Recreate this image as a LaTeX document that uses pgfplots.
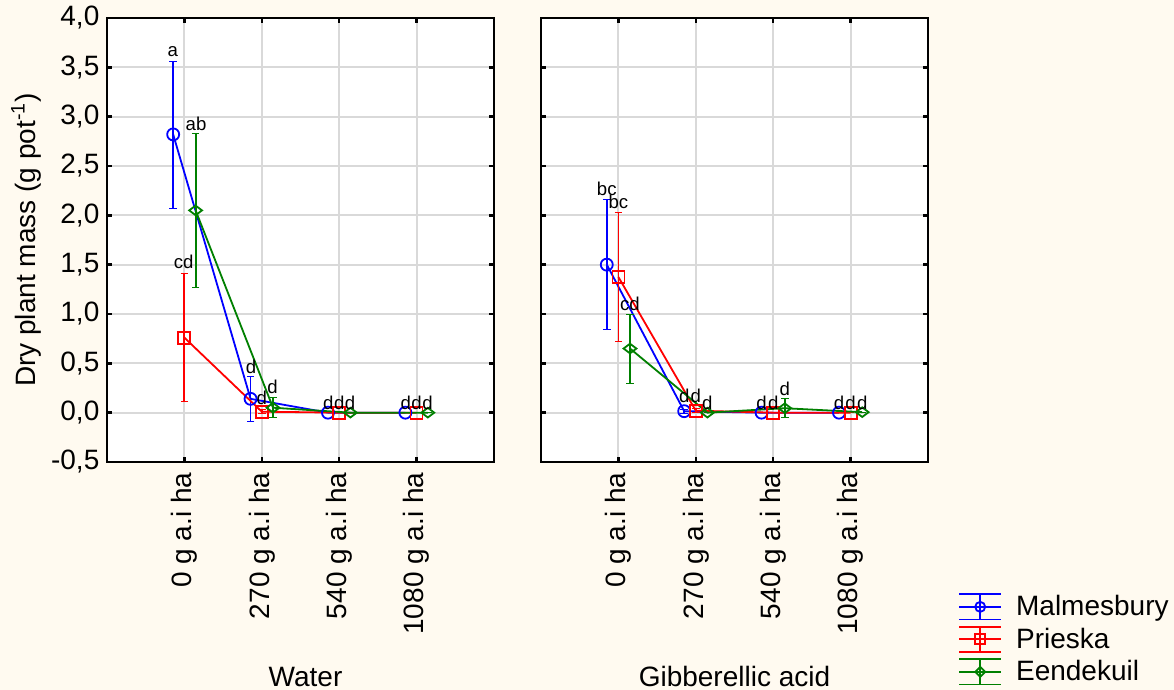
\documentclass[border=0pt]{standalone}
\usepackage{fontspec}
\setmainfont{Liberation Sans}
\usepackage{pgfplots}
\pgfplotsset{compat=1.18}
\usepackage{pgfplotstable}
\definecolor{bg}{RGB}{255,250,240}
\definecolor{sblue}{RGB}{0,0,255}
\definecolor{sred}{RGB}{255,0,0}
\definecolor{sgreen}{RGB}{0,128,0}
\definecolor{gridc}{RGB}{217,217,217}

% Water
\pgfplotstableread{
x y e
0.855 2.82 0.745
1.855 0.14 0.227
2.855 0 0
3.855 0 0
}\wblue
\pgfplotstableread{
x y e
1.0 0.76 0.65
2.0 0.01 0.02
3.0 0 0
4.0 0 0
}\wred
\pgfplotstableread{
x y e
1.145 2.05 0.78
2.145 0.05 0.10
3.145 0 0
4.145 0 0
}\wgreen
\pgfplotstableread{
x y l
0.85 3.61 a
1.15 2.86 ab
0.99 1.46 cd
1.86 0.40 d
2.0 0.08 d
2.14 0.195 d
2.86 0.027 d
3.0 0.027 d
3.14 0.027 d
3.86 0.027 d
4.0 0.027 d
4.14 0.027 d
}\wlab
% Gibberellic acid
\pgfplotstableread{
x y e
0.85 1.50 0.66
1.85 0.015 0.02
2.85 0 0
3.85 0 0
}\gblue
\pgfplotstableread{
x y e
1.0 1.375 0.655
2.0 0.02 0.02
3.0 0 0
4.0 0 0
}\gred
\pgfplotstableread{
x y e
1.15 0.65 0.35
2.15 0.0 0.0
3.15 0.045 0.095
4.15 0.005 0
}\ggreen
\pgfplotstableread{
x y l
0.85 2.20 bc
1.0 2.07 bc
1.15 1.04 cd
1.85 0.104 d
2.0 0.104 d
2.15 0.037 d
2.85 0.037 d
3.0 0.037 d
3.15 0.172 d
3.85 0.037 d
4.0 0.037 d
4.15 0.037 d
}\glab

\newcommand{\bigf}{\fontsize{14}{16.8}\selectfont}
\newcommand{\smallf}{\fontsize{9.3}{11}\selectfont}

\pgfplotsset{
  panel/.style={
    scale only axis, width=193.5pt, height=222pt, anchor=south west,
    xmin=0, xmax=5, ymin=-0.5, ymax=4,
    xtick={1,2,3,4},
    xticklabels={0 g a.i ha,270 g a.i ha,540 g a.i ha,1080 g a.i ha},
    ytick={-0.5,0,0.5,1,1.5,2,2.5,3,3.5,4},
    grid=major, major grid style={draw=gridc, line width=1pt},
    tick align=inside, tick pos=both, major tick length=2.5pt,
    every tick/.style={black, line width=1.2pt},
    axis line style={line width=1.2pt},
    axis background/.style={fill=white},
    tick label style={font=\bigf},
    label style={font=\bigf},
    xticklabel style={rotate=90, anchor=east},
    xticklabel shift=1.8pt,
    yticklabel shift=0.3pt,
    clip=false,
  },
  ser/.style={#1, line width=0.9pt, mark options={solid, fill=none},
    error bars/y dir=both, error bars/y explicit,
    error bars/error bar style={#1, line width=0.9pt, mark size=1.9pt}},
  labs/.style={forget plot, draw=none, mark=none, nodes near coords,
    point meta=explicit symbolic,
    nodes near coords style={anchor=base, font=\smallf, text=black, inner sep=0pt}},
}

\begin{document}
\begin{tikzpicture}
\fill[bg] (0,0) rectangle (587pt,345pt);

\begin{axis}[panel, at={(53.5pt,114pt)},
  yticklabels={{-0,5},{0,0},{0,5},{1,0},{1,5},{2,0},{2,5},{3,0},{3,5},{4,0}},
  ylabel={Dry plant mass (g pot\textsuperscript{-1})},
  ylabel style={at={(axis description cs:-0.209,0.5)}, anchor=center},
  xlabel={Water},
  xlabel style={at={(axis description cs:0.513,-0.506)}, anchor=base},
]
\addplot[ser=sblue, mark=o, mark size=3pt] table[x=x, y=y, y error=e] {\wblue};
\addplot[ser=sred, mark=square, mark size=3pt] table[x=x, y=y, y error=e] {\wred};
\addplot[ser=sgreen, mark=diamond, mark size=3.2pt, mark options={rotate=90}] table[x=x, y=y, y error=e] {\wgreen};
\addplot[labs] table[x=x, y=y, meta=l] {\wlab};
\end{axis}

\begin{axis}[panel, at={(270.5pt,114pt)},
  yticklabels={},
  xlabel={Gibberellic acid},
  xlabel style={at={(axis description cs:0.5,-0.506)}, anchor=base},
  legend style={at={(axis description cs:1.0773,-0.295)}, anchor=north west,
    draw=none, fill=none, inner sep=0pt, row sep=2.75pt, column sep=7pt,
    font=\bigf, nodes={inner sep=0pt}},
  legend cell align=left,
]
\addplot[ser=sblue, mark=o, mark size=3pt,
  legend image code/.code={
    \draw[sblue, line width=0.9pt] (0pt,0pt) -- (21pt,0pt);
    \draw[sblue, line width=0.9pt] (10.5pt,-6.3pt) -- (10.5pt,6.3pt);
    \draw[sblue, line width=0.9pt] (0pt,-6.3pt) -- (21pt,-6.3pt) (0pt,6.3pt) -- (21pt,6.3pt);
    \draw[sblue, line width=0.9pt] (10.5pt,0pt) circle (2.5pt);
  }] table[x=x, y=y, y error=e] {\gblue};
\addlegendentry{Malmesbury}
\addplot[ser=sred, mark=square, mark size=3pt,
  legend image code/.code={
    \draw[sred, line width=0.9pt] (0pt,0pt) -- (21pt,0pt);
    \draw[sred, line width=0.9pt] (10.5pt,-6.3pt) -- (10.5pt,6.3pt);
    \draw[sred, line width=0.9pt] (0pt,-6.3pt) -- (21pt,-6.3pt) (0pt,6.3pt) -- (21pt,6.3pt);
    \draw[sred, line width=0.9pt] (8pt,-2.5pt) rectangle (13pt,2.5pt);
  }] table[x=x, y=y, y error=e] {\gred};
\addlegendentry{Prieska}
\addplot[ser=sgreen, mark=diamond, mark size=3.2pt, mark options={rotate=90},
  legend image code/.code={
    \draw[sgreen, line width=0.9pt] (0pt,0pt) -- (21pt,0pt);
    \draw[sgreen, line width=0.9pt] (10.5pt,-6.3pt) -- (10.5pt,6.3pt);
    \draw[sgreen, line width=0.9pt] (0pt,-6.3pt) -- (21pt,-6.3pt) (0pt,6.3pt) -- (21pt,6.3pt);
    \draw[sgreen, line width=0.9pt] (8pt,0pt) -- (10.5pt,2.5pt) -- (13pt,0pt) -- (10.5pt,-2.5pt) -- cycle;
  }] table[x=x, y=y, y error=e] {\ggreen};
\addlegendentry{Eendekuil}
\addplot[labs] table[x=x, y=y, meta=l] {\glab};
\end{axis}

\pgfresetboundingbox
\path (0,0) rectangle (587pt,345pt);
\end{tikzpicture}
\end{document}
